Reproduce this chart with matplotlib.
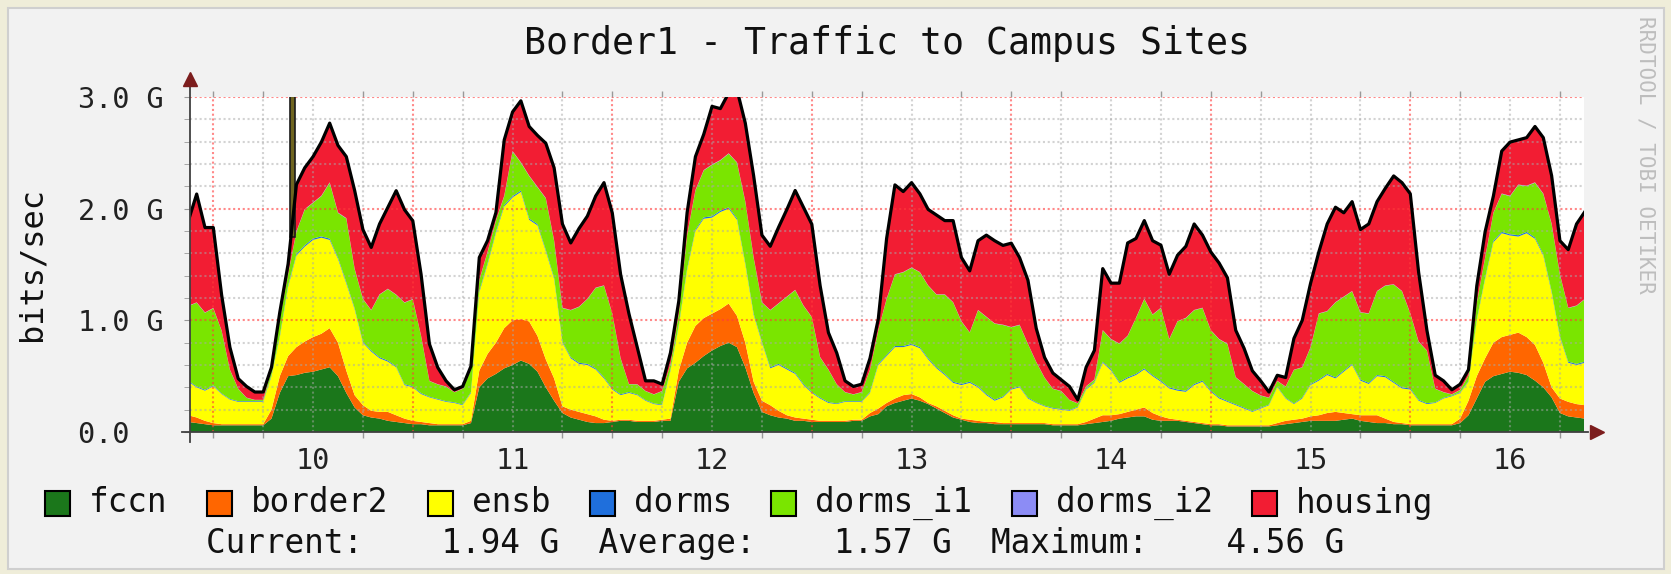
import numpy as np
import matplotlib
matplotlib.use("Agg")
import matplotlib.pyplot as plt
from matplotlib.patches import Rectangle

plt.rcParams['font.family'] = ['DejaVu Sans Mono']

# hourly samples, hour 0 = midnight of day 10
hours = np.arange(-3, 166)

# values in G bits/sec (one per hour)
fccn = [0.09, 0.08, 0.07, 0.06, 0.06, 0.06, 0.06, 0.06, 0.06, 0.06,
        0.12, 0.35, 0.50, 0.51, 0.53, 0.54, 0.56, 0.58, 0.50, 0.35,
        0.22, 0.15, 0.13, 0.12, 0.10, 0.09, 0.08, 0.07, 0.07, 0.06,
        0.06, 0.06, 0.06, 0.06, 0.08, 0.40, 0.48, 0.52, 0.57, 0.60,
        0.64, 0.61, 0.54, 0.40, 0.28, 0.17, 0.13, 0.11, 0.09, 0.08,
        0.08, 0.09, 0.10, 0.10, 0.09, 0.09, 0.09, 0.10, 0.10, 0.45,
        0.57, 0.62, 0.68, 0.73, 0.77, 0.80, 0.76, 0.58, 0.35, 0.18,
        0.15, 0.13, 0.12, 0.10, 0.10, 0.09, 0.09, 0.09, 0.09, 0.09,
        0.10, 0.10, 0.14, 0.16, 0.23, 0.26, 0.28, 0.30, 0.28, 0.25,
        0.21, 0.17, 0.13, 0.11, 0.09, 0.08, 0.08, 0.07, 0.07, 0.07,
        0.07, 0.07, 0.07, 0.07, 0.06, 0.06, 0.06, 0.06, 0.07, 0.08,
        0.09, 0.10, 0.12, 0.13, 0.14, 0.14, 0.11, 0.10, 0.10, 0.10,
        0.09, 0.08, 0.07, 0.06, 0.06, 0.05, 0.05, 0.05, 0.05, 0.05,
        0.05, 0.06, 0.07, 0.08, 0.09, 0.10, 0.10, 0.10, 0.10, 0.11,
        0.12, 0.10, 0.09, 0.08, 0.08, 0.07, 0.07, 0.06, 0.06, 0.06,
        0.06, 0.06, 0.06, 0.08, 0.15, 0.30, 0.45, 0.50, 0.52, 0.54,
        0.53, 0.51, 0.46, 0.40, 0.31, 0.17, 0.14, 0.13, 0.12]

border2 = [0.06, 0.05, 0.03, 0.02, 0.01, 0.01, 0.01, 0.01, 0.01, 0.01,
           0.08, 0.15, 0.18, 0.25, 0.28, 0.31, 0.32, 0.35, 0.30, 0.20,
           0.11, 0.09, 0.06, 0.06, 0.08, 0.06, 0.04, 0.03, 0.02, 0.02,
           0.01, 0.01, 0.01, 0.01, 0.02, 0.15, 0.22, 0.28, 0.36, 0.40,
           0.37, 0.38, 0.32, 0.25, 0.20, 0.06, 0.07, 0.07, 0.07, 0.06,
           0.03, 0.01, 0.01, 0.01, 0.01, 0.01, 0.01, 0.01, 0.02, 0.10,
           0.23, 0.33, 0.34, 0.33, 0.33, 0.35, 0.28, 0.22, 0.10, 0.10,
           0.09, 0.06, 0.03, 0.03, 0.02, 0.02, 0.01, 0.01, 0.01, 0.01,
           0.01, 0.01, 0.03, 0.05, 0.03, 0.04, 0.05, 0.04, 0.03, 0.01,
           0.02, 0.02, 0.02, 0.01, 0.02, 0.02, 0.01, 0.02, 0.01, 0.01,
           0.01, 0.01, 0.01, 0.01, 0.01, 0.01, 0.01, 0.01, 0.02, 0.04,
           0.06, 0.05, 0.04, 0.05, 0.06, 0.08, 0.06, 0.04, 0.02, 0.01,
           0.01, 0.01, 0.01, 0.01, 0.01, 0.01, 0.01, 0.01, 0.01, 0.01,
           0.01, 0.02, 0.03, 0.03, 0.03, 0.04, 0.05, 0.07, 0.08, 0.06,
           0.04, 0.05, 0.06, 0.07, 0.04, 0.02, 0.01, 0.01, 0.01, 0.01,
           0.01, 0.01, 0.01, 0.04, 0.13, 0.20, 0.21, 0.30, 0.33, 0.33,
           0.36, 0.34, 0.32, 0.22, 0.09, 0.13, 0.13, 0.12, 0.12]

ensb = [0.30, 0.27, 0.27, 0.33, 0.27, 0.22, 0.20, 0.20, 0.20, 0.20,
        0.30, 0.35, 0.62, 0.82, 0.85, 0.87, 0.86, 0.79, 0.75, 0.78,
        0.77, 0.56, 0.53, 0.48, 0.45, 0.43, 0.30, 0.30, 0.25, 0.23,
        0.22, 0.20, 0.19, 0.17, 0.25, 0.70, 0.80, 0.98, 1.09, 1.10,
        1.14, 0.91, 0.99, 0.97, 0.89, 0.57, 0.46, 0.43, 0.44, 0.42,
        0.37, 0.28, 0.22, 0.24, 0.23, 0.18, 0.15, 0.13, 0.43, 0.40,
        0.65, 0.85, 0.89, 0.86, 0.87, 0.85, 0.86, 0.70, 0.60, 0.52,
        0.33, 0.41, 0.41, 0.39, 0.30, 0.24, 0.20, 0.16, 0.15, 0.17,
        0.16, 0.16, 0.18, 0.39, 0.42, 0.46, 0.43, 0.44, 0.44, 0.39,
        0.34, 0.32, 0.29, 0.30, 0.33, 0.30, 0.24, 0.19, 0.23, 0.30,
        0.32, 0.22, 0.18, 0.15, 0.14, 0.13, 0.12, 0.15, 0.29, 0.32,
        0.47, 0.40, 0.28, 0.30, 0.31, 0.34, 0.33, 0.31, 0.27, 0.26,
        0.26, 0.33, 0.37, 0.29, 0.23, 0.21, 0.18, 0.15, 0.12, 0.15,
        0.18, 0.32, 0.20, 0.14, 0.18, 0.28, 0.31, 0.34, 0.30, 0.37,
        0.44, 0.31, 0.28, 0.35, 0.37, 0.35, 0.31, 0.31, 0.21, 0.18,
        0.19, 0.23, 0.25, 0.23, 0.17, 0.50, 0.71, 0.90, 0.93, 0.89,
        0.86, 0.93, 0.95, 0.96, 0.85, 0.55, 0.35, 0.35, 0.38]

dorms = [0.008, 0.008, 0.008, 0.008, 0.006, 0.006, 0.006, 0.006, 0.006, 0.006,
         0.008, 0.010, 0.012, 0.012, 0.012, 0.012, 0.012, 0.012, 0.012, 0.012,
         0.010, 0.010, 0.010, 0.010, 0.010, 0.008, 0.008, 0.008, 0.008, 0.006,
         0.006, 0.006, 0.006, 0.006, 0.008, 0.010, 0.012, 0.012, 0.012, 0.012,
         0.012, 0.012, 0.012, 0.012, 0.012, 0.010, 0.010, 0.010, 0.010, 0.010,
         0.010, 0.008, 0.008, 0.008, 0.006, 0.006, 0.006, 0.006, 0.008, 0.010,
         0.012, 0.012, 0.012, 0.012, 0.012, 0.012, 0.012, 0.012, 0.012, 0.010,
         0.010, 0.010, 0.010, 0.010, 0.010, 0.008, 0.008, 0.008, 0.006, 0.006,
         0.006, 0.006, 0.008, 0.010, 0.010, 0.010, 0.010, 0.010, 0.010, 0.010,
         0.010, 0.010, 0.010, 0.010, 0.010, 0.010, 0.010, 0.010, 0.008, 0.008,
         0.008, 0.008, 0.006, 0.006, 0.006, 0.006, 0.006, 0.006, 0.008, 0.008,
         0.010, 0.010, 0.010, 0.010, 0.010, 0.010, 0.010, 0.010, 0.010, 0.010,
         0.010, 0.010, 0.010, 0.010, 0.010, 0.008, 0.008, 0.008, 0.006, 0.006,
         0.006, 0.006, 0.006, 0.006, 0.008, 0.008, 0.010, 0.010, 0.010, 0.010,
         0.010, 0.010, 0.010, 0.010, 0.010, 0.010, 0.010, 0.010, 0.008, 0.008,
         0.006, 0.006, 0.006, 0.006, 0.006, 0.008, 0.010, 0.012, 0.012, 0.012,
         0.012, 0.012, 0.012, 0.012, 0.012, 0.010, 0.010, 0.010, 0.010]

dorms_i1 = [0.67, 0.75, 0.69, 0.69, 0.56, 0.26, 0.11, 0.03, 0.01, 0.01,
            0.05, 0.15, 0.10, 0.20, 0.32, 0.32, 0.36, 0.50, 0.40, 0.57,
            0.35, 0.38, 0.36, 0.56, 0.64, 0.64, 0.73, 0.78, 0.51, 0.14,
            0.13, 0.13, 0.09, 0.14, 0.20, 0.10, 0.10, 0.10, 0.08, 0.40,
            0.25, 0.38, 0.33, 0.46, 0.33, 0.30, 0.42, 0.50, 0.58, 0.72,
            0.82, 0.67, 0.32, 0.07, 0.09, 0.08, 0.08, 0.12, 0.05, 0.10,
            0.30, 0.35, 0.42, 0.46, 0.45, 0.48, 0.50, 0.55, 0.50, 0.35,
            0.51, 0.54, 0.64, 0.74, 0.70, 0.67, 0.36, 0.29, 0.17, 0.08,
            0.06, 0.08, 0.20, 0.30, 0.50, 0.64, 0.66, 0.68, 0.67, 0.65,
            0.65, 0.71, 0.71, 0.56, 0.44, 0.68, 0.69, 0.68, 0.64, 0.55,
            0.55, 0.48, 0.36, 0.25, 0.17, 0.16, 0.09, 0.03, 0.02, 0.02,
            0.28, 0.27, 0.34, 0.37, 0.50, 0.62, 0.54, 0.65, 0.43, 0.61,
            0.65, 0.66, 0.65, 0.54, 0.52, 0.51, 0.24, 0.21, 0.18, 0.11,
            0.06, 0.05, 0.10, 0.30, 0.27, 0.33, 0.59, 0.56, 0.67, 0.66,
            0.65, 0.60, 0.62, 0.75, 0.81, 0.87, 0.86, 0.67, 0.52, 0.47,
            0.12, 0.05, 0.01, 0.02, 0.05, 0.15, 0.18, 0.25, 0.34, 0.34,
            0.45, 0.41, 0.49, 0.54, 0.60, 0.55, 0.48, 0.52, 0.56]

dorms_i2 = [0.003, 0.003, 0.003, 0.003, 0.002, 0.002, 0.002, 0.002, 0.002, 0.002,
            0.002, 0.003, 0.003, 0.004, 0.004, 0.004, 0.004, 0.004, 0.004, 0.004,
            0.004, 0.003, 0.003, 0.003, 0.003, 0.003, 0.003, 0.003, 0.002, 0.002,
            0.002, 0.002, 0.002, 0.002, 0.002, 0.003, 0.003, 0.004, 0.004, 0.004,
            0.004, 0.004, 0.004, 0.004, 0.004, 0.003, 0.003, 0.003, 0.003, 0.003,
            0.003, 0.003, 0.003, 0.002, 0.002, 0.002, 0.002, 0.002, 0.002, 0.003,
            0.003, 0.004, 0.004, 0.004, 0.004, 0.004, 0.004, 0.004, 0.004, 0.003,
            0.003, 0.003, 0.003, 0.003, 0.003, 0.003, 0.003, 0.002, 0.002, 0.002,
            0.002, 0.002, 0.002, 0.003, 0.003, 0.003, 0.003, 0.003, 0.003, 0.003,
            0.003, 0.003, 0.003, 0.003, 0.003, 0.003, 0.003, 0.003, 0.003, 0.003,
            0.003, 0.002, 0.002, 0.002, 0.002, 0.002, 0.002, 0.002, 0.002, 0.003,
            0.003, 0.003, 0.003, 0.003, 0.003, 0.003, 0.003, 0.003, 0.003, 0.003,
            0.003, 0.003, 0.003, 0.003, 0.003, 0.003, 0.003, 0.002, 0.002, 0.002,
            0.002, 0.002, 0.002, 0.002, 0.002, 0.003, 0.003, 0.003, 0.003, 0.003,
            0.003, 0.003, 0.003, 0.003, 0.003, 0.003, 0.003, 0.003, 0.003, 0.002,
            0.002, 0.002, 0.002, 0.002, 0.002, 0.002, 0.003, 0.003, 0.004, 0.004,
            0.004, 0.004, 0.004, 0.004, 0.004, 0.003, 0.003, 0.003, 0.003]

housing = [0.76, 0.97, 0.76, 0.72, 0.32, 0.20, 0.09, 0.10, 0.07, 0.07,
           0.02, 0.06, 0.09, 0.42, 0.37, 0.41, 0.48, 0.53, 0.60, 0.55,
           0.70, 0.62, 0.56, 0.63, 0.73, 0.93, 0.83, 0.70, 0.55, 0.33,
           0.15, 0.05, 0.02, 0.02, 0.03, 0.20, 0.10, 0.07, 0.50, 0.35,
           0.55, 0.44, 0.46, 0.49, 0.65, 0.75, 0.60, 0.70, 0.74, 0.82,
           0.92, 0.90, 0.75, 0.63, 0.33, 0.09, 0.12, 0.06, 0.10, 0.11,
           0.20, 0.30, 0.32, 0.52, 0.46, 0.54, 0.65, 0.70, 0.73, 0.60,
           0.57, 0.68, 0.78, 0.89, 0.88, 0.83, 0.64, 0.33, 0.28, 0.10,
           0.07, 0.07, 0.10, 0.10, 0.54, 0.80, 0.72, 0.76, 0.70, 0.68,
           0.71, 0.66, 0.73, 0.57, 0.55, 0.62, 0.73, 0.74, 0.71, 0.75,
           0.60, 0.57, 0.30, 0.18, 0.14, 0.10, 0.12, 0.03, 0.17, 0.26,
           0.55, 0.50, 0.54, 0.83, 0.71, 0.70, 0.66, 0.56, 0.58, 0.59,
           0.64, 0.77, 0.65, 0.70, 0.68, 0.59, 0.42, 0.32, 0.18, 0.13,
           0.05, 0.05, 0.08, 0.28, 0.42, 0.57, 0.55, 0.78, 0.85, 0.75,
           0.80, 0.74, 0.80, 0.80, 0.87, 0.97, 0.97, 1.07, 0.62, 0.18,
           0.12, 0.10, 0.04, 0.05, 0.05, 0.15, 0.23, 0.15, 0.38, 0.48,
           0.40, 0.43, 0.50, 0.50, 0.43, 0.30, 0.52, 0.73, 0.78]

# short burst near 09:30 on day 10 (clipped at the top of the graph)
spike_hour = [9.55]
spike_base = [1.75]
spike_peak = [4.56]

series_names = ["fccn", "border2", "ensb", "dorms", "dorms_i1", "dorms_i2", "housing"]
series_colors = ["#1b771b", "#ff6600", "#ffff00", "#1f6fdc", "#7ae500", "#8c8cf5", "#f21d33"]

day_labels = ["10", "11", "12", "13", "14", "15", "16"]
current_val, average_val, maximum_val = 1.94, 1.57, 4.56

W, H = 1671, 574
fig = plt.figure(figsize=(W / 100, H / 100), dpi=100)
fig.patch.set_facecolor("#efedd9")

def fx(px):
    return px / W

def fy(py):
    return 1 - py / H

# grey panel behind the graph
fig.add_artist(Rectangle((fx(8), fy(569)), (1664 - 8) / W, (569 - 8) / H,
                         transform=fig.transFigure, facecolor="#f2f2f2",
                         edgecolor="#cfcfcf", lw=1.5, zorder=-5))

ax = fig.add_axes([fx(190), fy(432), (1584 - 190) / W, (432 - 97) / H])
ax.set_facecolor("white")
for s in ax.spines.values():
    s.set_visible(False)

x = 10 + hours / 24.0
stack = [fccn, border2, ensb, dorms, dorms_i1, dorms_i2, housing]
ax.stackplot(x, *stack, colors=series_colors, lw=0, zorder=1)
total = np.sum(np.array(stack), axis=0)
ax.plot(x, total, color="black", lw=2.3, zorder=3)

# the spike
sx = 10 + np.array(spike_hour) / 24.0
ax.bar(sx, np.array(spike_peak) - np.array(spike_base), bottom=spike_base,
       width=0.65 / 24, color="#6f6520", edgecolor="#1a1a1a", lw=1.2, zorder=2.9)

x0, x1 = 10 - 23.3 / 199.5, 10 + (1584 - 213.3) / 199.5
ax.set_xlim(x0, x1)
ax.set_ylim(0, 3.0)

# grid
dots = (0, (1, 1.3))
minor_y = [v for v in np.arange(0.2, 3.0, 0.2) if abs(v - round(v)) > 0.05]
ax.hlines(minor_y, x0, x1, colors="#a8a8a8", alpha=0.5, lw=1.5, linestyles=[dots], zorder=2.5)
ax.hlines([1, 2, 3], x0, x1, colors="#ff3b3b", alpha=0.6, lw=1.5, linestyles=[dots], zorder=2.6)
six_h = np.arange(10, 17.01, 0.25)
minor_x = [v for v in six_h if abs(v - round(v)) > 0.01 and x0 < v < x1]
ax.vlines(minor_x, 0, 3.0, colors="#a8a8a8", alpha=0.5, lw=1.5, linestyles=[dots], zorder=2.5)
midn = [v for v in np.arange(10, 17) if x0 < v < x1]
ax.vlines(midn, 0, 3.0, colors="#ff3b3b", alpha=0.6, lw=1.5, linestyles=[dots], zorder=2.6)

# ticks and labels
noons = [int(d) + 0.5 for d in day_labels]
ax.set_xticks(noons, day_labels)
ax.set_xticks([v for v in six_h if x0 < v < x1], minor=True)
ax.tick_params(axis="x", which="major", length=0, pad=11, labelsize=20.5, colors="#222222")
ax.tick_params(axis="x", which="minor", length=4, direction="out", top=True, bottom=True,
               color="#999999", width=1)
ax.set_yticks([0, 1, 2, 3], ["0.0  ", "1.0 G", "2.0 G", "3.0 G"])
ax.set_yticks(np.arange(0, 3.01, 0.2), minor=True)
ax.tick_params(axis="y", which="major", length=4, pad=15, labelsize=20.5, colors="#222222")
ax.tick_params(axis="y", which="minor", length=4, color="#999999")
ax.tick_params(axis="y", which="major", color="#999999")

# axis lines with arrows
ax.plot([0, 0], [-0.03, 1.04], transform=ax.transAxes, color="#404040", lw=1.3,
        clip_on=False, zorder=4)
ax.plot([0], [1.055], transform=ax.transAxes, marker="^", ms=10, color="#7c1d1d",
        clip_on=False, zorder=5)
ax.plot([-0.006, 1.003], [0, 0], transform=ax.get_yaxis_transform(), color="#404040",
        lw=1.3, clip_on=False, zorder=4)
ax.plot([1.009], [0], transform=ax.get_yaxis_transform(), marker=">", ms=10,
        color="#7c1d1d", clip_on=False, zorder=5)

# texts
fig.text(fx(887), fy(43), "Border1 - Traffic to Campus Sites", ha="center", va="center",
         fontsize=26.3, color="#111111")
fig.text(fx(32), fy(264), "bits/sec", rotation=90, ha="center", va="center",
         fontsize=23, color="#111111")
fig.text(fx(1646), fy(16), "RRDTOOL / TOBI OETIKER", rotation=270, ha="center", va="top",
         fontsize=15, color="#bdbdbd")

# legend
cw = 19.7
tl = 89
for name, col in zip(series_names, series_colors):
    fig.add_artist(Rectangle((fx(tl - 44), fy(516)), 25 / W, 25 / H, transform=fig.transFigure,
                             facecolor=col, edgecolor="black", lw=1.5))
    fig.text(fx(tl), fy(503), name, ha="left", va="center", fontsize=23.5, color="#111111")
    tl += len(name) * cw + 83

stats = "Current:%8.2f G  Average:%8.2f G  Maximum:%8.2f G" % (current_val, average_val, maximum_val)
fig.text(fx(206), fy(543.5), stats, ha="left", va="center", fontsize=23.5, color="#111111")

fig.savefig("out.png", dpi=100, facecolor=fig.get_facecolor())
